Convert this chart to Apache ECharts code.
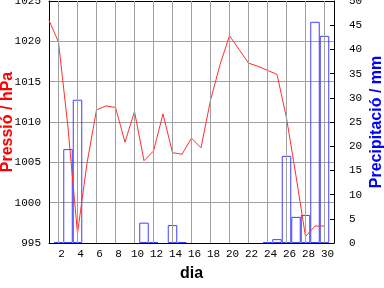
<!DOCTYPE html>
<html>
<head>
<meta charset="utf-8">
<script src="https://cdn.jsdelivr.net/npm/echarts/dist/echarts.min.js"></script>
<style>
  html, body { margin: 0; padding: 0; background: #fff; }
  #chart { width: 384px; height: 288px; }
</style>
</head>
<body>
<div id="chart"></div>
<script>
// dies del mes
var days = [1,2,3,4,5,6,7,8,9,10,11,12,13,14,15,16,17,18,19,20,21,22,23,24,25,26,27,28,29,30];
// pressió (hPa)
var pressure = [1022.6, 1019.9, 1009.3, 996.2, 1004.9, 1011.5, 1012.0, 1011.8, 1007.5, 1011.3,
                1005.2, 1006.4, 1011.0, 1006.2, 1006.0, 1008.0, 1006.8, 1012.7, 1017.1, 1020.7,
                1019.0, 1017.3, 1016.9, 1016.4, 1015.9, 1010.5, 1003.3, 995.8, 997.1, 997.1];
// precipitació (mm)
var rain = [0, 0.2, 19.4, 29.6, 0, 0, 0, 0, 0, 0,
            4.2, 0.2, 0, 3.7, 0.2, 0, 0, 0, 0, 0,
            0, 0, 0, 0.2, 0.8, 18.0, 5.4, 5.8, 45.7, 42.8];
// etiquetes de l'eix x
var dayTicks = [2,4,6,8,10,12,14,16,18,20,22,24,26,28,30];

var monoFont = 'Liberation Mono';

var myChart = echarts.init(document.getElementById('chart'), null, {renderer: 'canvas'});

var pressData = [];
var rainData = [];
for (var i = 0; i < days.length; i++) {
    pressData.push([days[i], pressure[i]]);
    rainData.push([days[i], rain[i] === 0 ? '-' : rain[i]]);
}
// línies verticals de la graella
var gridLines = [];
for (var j = 0; j < dayTicks.length; j++) {
    gridLines.push({ xAxis: dayTicks[j] });
}

function plainNum(v) {
    return String(v);
}

var option = {
    animation: false,
    backgroundColor: '#fff',
    grid: { left: 49, right: 50, top: 1, bottom: 45, show: false, containLabel: false, outerBoundsMode: 'none' },
    xAxis: [
        {
            type: 'value',
            min: 1,
            max: 31,
            position: 'bottom',
            name: 'dia',
            nameLocation: 'middle',
            nameGap: 23,
            nameMoveOverlap: false,
            nameTextStyle: { color: '#000', fontFamily: 'Liberation Sans', fontWeight: 'bold', fontSize: 16 },
            axisLine: { show: true, lineStyle: { color: '#000', width: 1 } },
            axisTick: { show: true, inside: true, length: 4, customValues: dayTicks, lineStyle: { color: '#000' } },
            axisLabel: { customValues: dayTicks, formatter: plainNum, color: '#000', fontFamily: monoFont, fontSize: 11, margin: 6, padding: [0, 0, 0, 6] },
            splitLine: { show: false }
        },
        {
            type: 'value',
            min: 1,
            max: 31,
            position: 'top',
            axisLine: { show: true, lineStyle: { color: '#000', width: 1 } },
            axisTick: { show: true, inside: true, length: 4, customValues: dayTicks, lineStyle: { color: '#000' } },
            axisLabel: { show: false },
            splitLine: { show: false }
        }
    ],
    yAxis: [
        {
            type: 'value',
            min: 995,
            max: 1025,
            interval: 5,
            position: 'left',
            name: 'Pressió / hPa',
            nameLocation: 'middle',
            nameRotate: 90,
            nameGap: 33,
            nameMoveOverlap: false,
            nameTextStyle: { color: '#ff0000', fontFamily: 'Liberation Sans', fontWeight: 'bold', fontSize: 16 },
            axisLine: { show: true, lineStyle: { color: '#000', width: 1 } },
            axisTick: { show: false },
            axisLabel: { formatter: plainNum, color: '#000', fontFamily: monoFont, fontSize: 11, margin: 8 },
            splitLine: { show: true, lineStyle: { color: '#a0a0a0', width: 1 } }
        },
        {
            type: 'value',
            min: 0,
            max: 50,
            interval: 5,
            position: 'right',
            name: 'Precipitació / mm',
            nameLocation: 'middle',
            nameRotate: 90,
            nameGap: 35,
            nameMoveOverlap: false,
            nameTextStyle: { color: '#0000ff', fontFamily: 'Liberation Sans', fontWeight: 'bold', fontSize: 16 },
            axisLine: { show: true, lineStyle: { color: '#000', width: 1 } },
            axisTick: { show: true, inside: true, length: 4, lineStyle: { color: '#000' } },
            axisLabel: { formatter: plainNum, color: '#000', fontFamily: monoFont, fontSize: 11, margin: 15 },
            splitLine: { show: false }
        }
    ],
    series: [
        {
            name: 'graella',
            type: 'line',
            xAxisIndex: 0,
            yAxisIndex: 0,
            z: 1,
            data: [],
            markLine: {
                silent: true,
                symbol: ['none', 'none'],
                label: { show: false },
                lineStyle: { color: '#a0a0a0', width: 1, type: 'solid' },
                data: gridLines
            }
        },
        {
            name: 'Precipitació',
            type: 'bar',
            xAxisIndex: 0,
            yAxisIndex: 1,
            barWidth: 9.5,
            z: 2,
            itemStyle: { color: 'rgba(0,0,0,0)', borderColor: '#4040ff', borderWidth: 1 },
            data: rainData
        },
        {
            name: 'Pressió',
            type: 'line',
            xAxisIndex: 0,
            yAxisIndex: 0,
            symbol: 'none',
            z: 3,
            lineStyle: { color: '#ff3030', width: 1 },
            data: pressData
        }
    ]
};
// mostrar el gràfic
myChart.setOption(option);
</script>
</body>
</html>
